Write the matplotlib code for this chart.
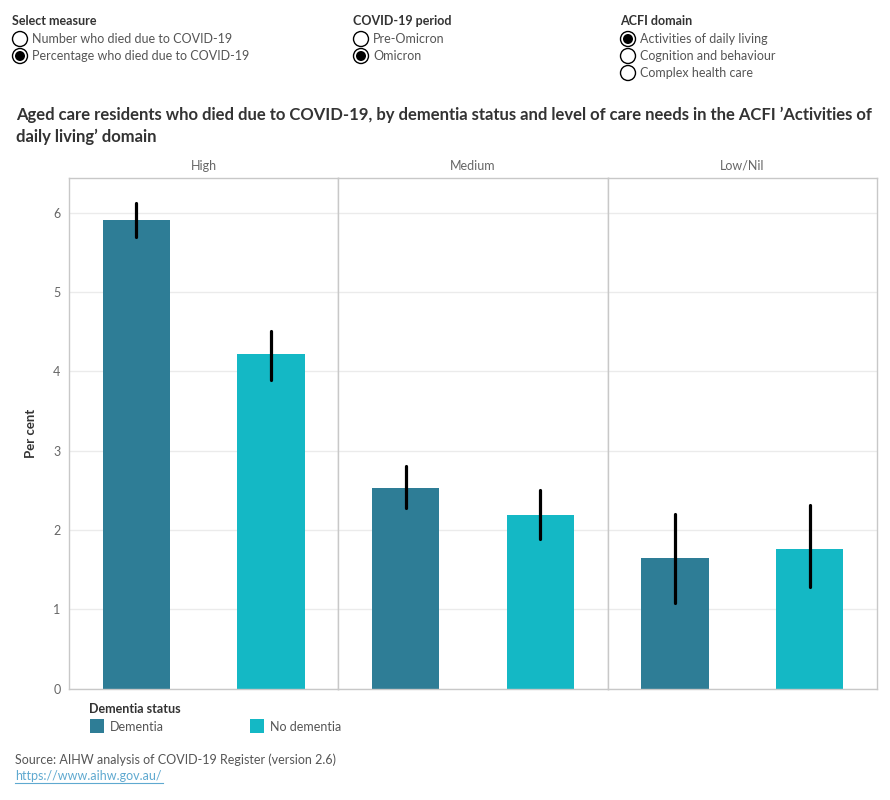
import matplotlib
matplotlib.use("Agg")
import matplotlib.pyplot as plt
from matplotlib.patches import Circle, Rectangle

plt.rcParams["font.family"] = ["Lato", "DejaVu Sans"]

# Data (per cent of residents who died due to COVID-19, Omicron period)
care_levels = ["High", "Medium", "Low/Nil"]
groups = ["Dementia", "No dementia"]
dementia_pct = [5.91, 2.53, 1.65]
dementia_lo = [5.70, 2.28, 1.08]
dementia_hi = [6.12, 2.81, 2.20]
no_dementia_pct = [4.22, 2.19, 1.76]
no_dementia_lo = [3.89, 1.88, 1.28]
no_dementia_hi = [4.51, 2.51, 2.31]

colors = {"Dementia": "#2e7d96", "No dementia": "#14b8c5"}
W, H = 890, 800

fig = plt.figure(figsize=(W / 100, H / 100), dpi=100)

# overlay in pixel coordinates for the header widgets and legend
ov = fig.add_axes([0, 0, 1, 1])
ov.set_xlim(0, W)
ov.set_ylim(H, 0)
ov.axis("off")

dark = "#333333"
grey = "#555555"


def radio(x, y, label, on):
    ov.add_patch(Circle((x, y), 7.5, facecolor="white", edgecolor="black", lw=1))
    if on:
        ov.add_patch(Circle((x, y), 5, facecolor="black", edgecolor="none"))
    ov.text(x + 12, y, label, fontsize=9, color=grey, va="center", ha="left")


ov.text(12, 21, "Select measure", fontsize=9, fontweight="bold", color=dark, va="center")
radio(20, 39, "Number who died due to COVID-19", False)
radio(20, 56, "Percentage who died due to COVID-19", True)

ov.text(353, 21, "COVID-19 period", fontsize=9, fontweight="bold", color=dark, va="center")
radio(361, 39, "Pre-Omicron", False)
radio(361, 56, "Omicron", True)

ov.text(620, 21, "ACFI domain", fontsize=9, fontweight="bold", color=dark, va="center")
radio(628, 39, "Activities of daily living", True)
radio(628, 56, "Cognition and behaviour", False)
radio(628, 73, "Complex health care", False)

ov.text(16, 115, "Aged care residents who died due to COVID-19, by dementia status and level of care needs in the ACFI \u2019Activities of",
        fontsize=12, fontweight="bold", color=dark, va="center")
ov.text(16, 137, "daily living\u2019 domain", fontsize=12, fontweight="bold", color=dark, va="center")

# legend
ov.text(89, 709, "Dementia status", fontsize=9, fontweight="bold", color=dark, va="center")
for x, g in [(90, "Dementia"), (250, "No dementia")]:
    ov.add_patch(Rectangle((x, 719), 14, 14, facecolor=colors[g], edgecolor="none"))
    ov.text(x + 20, 727, g, fontsize=9, color=grey, va="center")

ov.text(15, 760, "Source: AIHW analysis of COVID-19 Register (version 2.6)", fontsize=9, color=grey, va="center")
ov.text(15, 776, "https://www.aihw.gov.au/", fontsize=9, color="#5fa9d0", va="center")
ov.plot([15, 163], [783, 783], color="#5fa9d0", lw=0.8)

# panels
left, right, top, bottom = 69, 877, 178, 688.5
pw = (right - left) / 3
for i, lvl in enumerate(care_levels):
    ax = fig.add_axes([(left + i * pw) / W, 1 - bottom / H, pw / W, (bottom - top) / H])
    vals = [dementia_pct[i], no_dementia_pct[i]]
    los = [dementia_lo[i], no_dementia_lo[i]]
    his = [dementia_hi[i], no_dementia_hi[i]]
    xs = [0, 1]
    ax.bar(xs, vals, width=0.5, color=[colors[g] for g in groups], zorder=2)
    ax.vlines(xs, los, his, color="black", lw=2.3, zorder=3, capstyle="round")
    ax.set_xlim(-0.5, 1.5)
    ax.set_ylim(0, 6.44)
    ax.set_yticks(range(0, 7))
    ax.grid(axis="y", color="#ebebeb", lw=1, zorder=0)
    ax.set_xticks([])
    for s in ax.spines.values():
        s.set_color("#c8c8c8")
        s.set_linewidth(1)
    ax.tick_params(axis="y", length=0, pad=6, labelsize=9, labelcolor="#666666")
    if i > 0:
        ax.tick_params(axis="y", labelleft=False)
    else:
        ax.set_ylabel("Per cent", fontsize=9.5, fontweight="bold", color=dark, labelpad=12)
    ax.set_title(lvl, fontsize=9, color="#666666", pad=6)

fig.savefig("out.png", dpi=100)
